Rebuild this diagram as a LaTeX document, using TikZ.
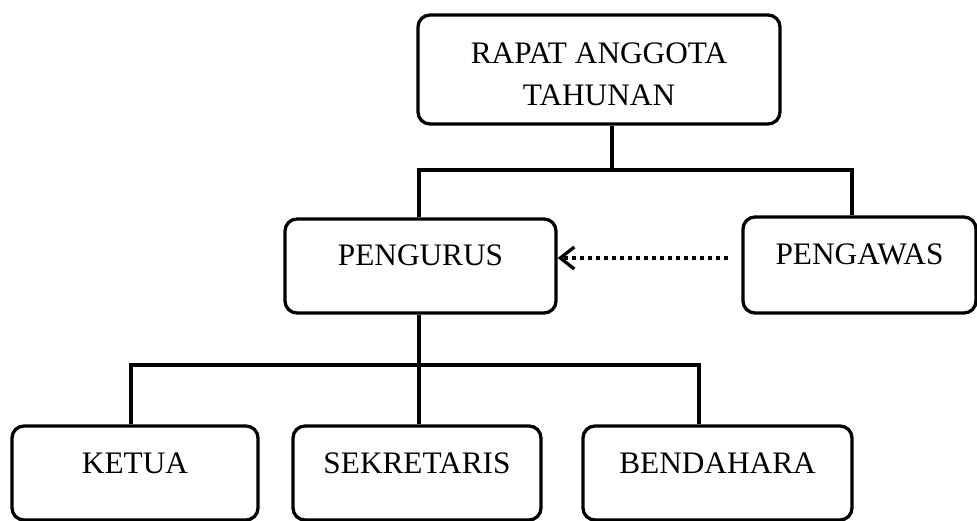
\documentclass[tikz,border=0pt]{standalone}
\usepackage{fontspec}
\setmainfont{Liberation Serif}
\usetikzlibrary{arrows.meta}
\begin{document}
\begin{tikzpicture}[x=1pt,y=-1pt,
  box/.style={draw, line width=3.3pt, rounded corners=12pt, inner sep=0pt,
    font=\fontsize{31.3}{42}\selectfont, text height=10pt, text depth=10pt},
  conn/.style={line width=3.3pt},
  dotarrow/.style={line width=3.3pt, dash pattern=on 4pt off 4pt,
    -{Straight Barb[length=14pt,width=22pt]}}]
\useasboundingbox (0,0) rectangle (977,521);

\node[box, align=center, minimum width=362pt, minimum height=109pt,
  text height=72pt, text depth=0pt] (rat) at (599,69.5) {RAPAT ANGGOTA\\TAHUNAN};
\node[box, minimum width=271pt, minimum height=94pt] (pengurus) at (420.5,266) {PENGURUS};
\node[box, minimum width=233pt, minimum height=96pt] (pengawas) at (859.5,265) {PENGAWAS};
\node[box, minimum width=246pt, minimum height=94pt] (ketua) at (135,473) {KETUA};
\node[box, minimum width=248pt, minimum height=94pt] (sekretaris) at (417,473) {SEKRETARIS};
\node[box, minimum width=269pt, minimum height=94pt] (bendahara) at (717.5,473) {BENDAHARA};

\coordinate (j1) at (612,170);
\coordinate (jl) at (419,170);
\coordinate (jr) at (852,170);
\draw[conn] (rat.south -| j1) -- (j1);
\draw[conn] (pengurus.north -| jl) -- (jl) -- (jr) -- (pengawas.north -| jr);

\coordinate (k1) at (419,365);
\coordinate (kl) at (131,365);
\coordinate (kr) at (699,365);
\draw[conn] (pengurus.south -| k1) -- (k1);
\draw[conn] (ketua.north -| kl) -- (kl) -- (kr) -- (bendahara.north -| kr);
\draw[conn] (k1) -- (sekretaris.north -| k1);

\coordinate (ds) at (728,258);
\draw[dotarrow] (ds) -- (pengurus.east |- ds);
\end{tikzpicture}
\end{document}
